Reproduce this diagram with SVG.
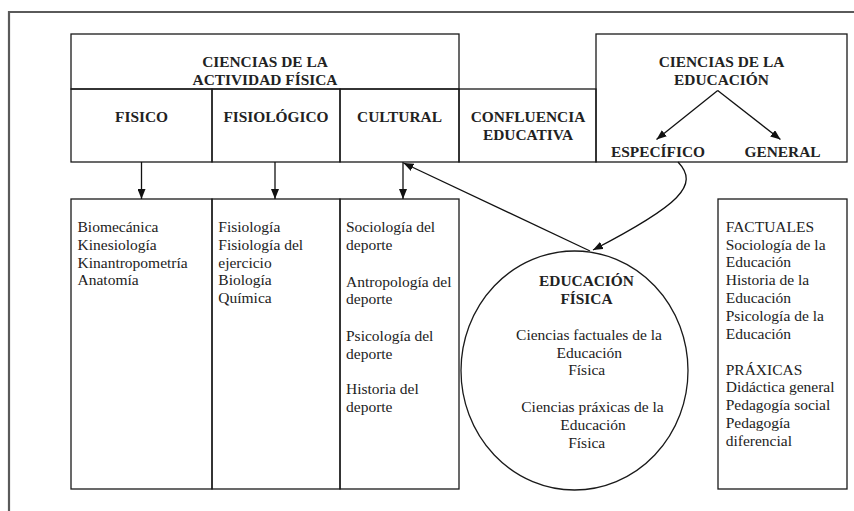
<svg xmlns="http://www.w3.org/2000/svg" width="854" height="511" viewBox="0 0 854 511">
<style>
.box{fill:none;stroke:#1a1a1a;stroke-width:1.3}
.frame{fill:none;stroke:#5a5a5a;stroke-width:2.2}
.conn{fill:none;stroke:#111;stroke-width:1.3}
.h{font-weight:bold;font-size:15.4px;fill:#222;text-anchor:middle}
.t{font-size:15.5px;fill:#222}
.c{text-anchor:middle}
</style>
<defs>
<marker id="ah" viewBox="0 0 10 8" refX="10" refY="4" markerWidth="10" markerHeight="8" markerUnits="userSpaceOnUse" orient="auto">
<path d="M0,0 L10,4 L0,8 Z" fill="#111"/>
</marker>
</defs>
<rect width="854" height="511" fill="#fff"/>
<path class="frame" d="M9,520 L9,12 L860,12"/>
<g font-family="Liberation Serif, Times New Roman, DejaVu Serif, serif">
<g id="actividad-fisica">
<rect class="box" x="71" y="34" width="388" height="55"/>
<text class="h" x="265" y="66.5">CIENCIAS DE LA</text>
<text class="h" x="265" y="84.5">ACTIVIDAD FÍSICA</text>
</g>
<g id="fisico">
<rect class="box" x="71" y="89" width="141" height="73"/>
<text class="h" x="141.5" y="121.7">FISICO</text>
</g>
<g id="fisiologico">
<rect class="box" x="212" y="89" width="128" height="73"/>
<text class="h" x="276" y="121.7">FISIOLÓGICO</text>
</g>
<g id="cultural">
<rect class="box" x="340" y="89" width="119" height="73"/>
<text class="h" x="399.5" y="121.7">CULTURAL</text>
</g>
<g id="confluencia">
<rect class="box" x="459" y="89" width="137" height="73"/>
<text class="h" x="528" y="122.3">CONFLUENCIA</text>
<text class="h" x="528" y="139.8">EDUCATIVA</text>
</g>
<g id="ciencias-educacion">
<rect class="box" x="596" y="34" width="251" height="128"/>
<text class="h" x="721.5" y="66.5">CIENCIAS DE LA</text>
<text class="h" x="721.5" y="84.5">EDUCACIÓN</text>
</g>
<g id="especifico">
<text class="h" x="658" y="157.3">ESPECÍFICO</text>
</g>
<g id="general">
<text class="h" x="782.5" y="157.3">GENERAL</text>
</g>

<g id="lista-fisico">
<rect class="box" x="71" y="199" width="141" height="290"/>
<text class="t" x="77.5" y="232.3">Biomecánica</text>
<text class="t" x="77.5" y="250">Kinesiología</text>
<text class="t" x="77.5" y="267.7">Kinantropometría</text>
<text class="t" x="77.5" y="285.4">Anatomía</text>
</g>
<g id="lista-fisiologico">
<rect class="box" x="212" y="199" width="128" height="290"/>
<text class="t" x="218.3" y="232.3">Fisiología</text>
<text class="t" x="218.3" y="250">Fisiología del</text>
<text class="t" x="218.3" y="267.7">ejercicio</text>
<text class="t" x="218.3" y="285.4">Biología</text>
<text class="t" x="218.3" y="303.1">Química</text>
</g>
<g id="lista-cultural">
<rect class="box" x="340" y="199" width="119" height="290"/>
<text class="t" x="346" y="232.3">Sociología del</text>
<text class="t" x="346" y="250.3">deporte</text>
<text class="t" x="346" y="286.5">Antropología del</text>
<text class="t" x="346" y="304.3">deporte</text>
<text class="t" x="346" y="340.8">Psicología del</text>
<text class="t" x="346" y="358.6">deporte</text>
<text class="t" x="346" y="394.3">Historia del</text>
<text class="t" x="346" y="412">deporte</text>
</g>
<g id="educacion-fisica">
<ellipse class="box" cx="574.5" cy="370.5" rx="113.5" ry="119.5"/>
<text class="h" x="586.5" y="286">EDUCACIÓN</text>
<text class="h" x="586.5" y="304">FÍSICA</text>
<text class="t c" x="589" y="340">Ciencias factuales de la</text>
<text class="t c" x="589.3" y="357.6">Educación</text>
<text class="t c" x="586.7" y="375.2">Física</text>
<text class="t c" x="592.5" y="412.3">Ciencias práxicas de la</text>
<text class="t c" x="593" y="430">Educación</text>
<text class="t c" x="586.7" y="447.6">Física</text>
</g>
<g id="lista-educacion">
<rect class="box" x="718" y="199" width="129" height="290"/>
<text class="t" x="725.7" y="231.7">FACTUALES</text>
<text class="t" x="725.7" y="249.5">Sociología de la</text>
<text class="t" x="725.7" y="267.3">Educación</text>
<text class="t" x="725.7" y="285.1">Historia de la</text>
<text class="t" x="725.7" y="302.9">Educación</text>
<text class="t" x="725.7" y="320.7">Psicología de la</text>
<text class="t" x="725.7" y="338.5">Educación</text>
<text class="t" x="725.7" y="374.5">PRÁXICAS</text>
<text class="t" x="725.7" y="392.3">Didáctica general</text>
<text class="t" x="725.7" y="410.1">Pedagogía social</text>
<text class="t" x="725.7" y="427.9">Pedagogía</text>
<text class="t" x="725.7" y="445.7">diferencial</text>
</g>
</g>
<g id="connectors">
<line class="conn" x1="141.5" y1="162" x2="141.5" y2="199" marker-end="url(#ah)"/>
<line class="conn" x1="275" y1="162" x2="275" y2="199" marker-end="url(#ah)"/>
<line class="conn" x1="403" y1="162" x2="403" y2="199" marker-end="url(#ah)"/>
<line class="conn" x1="717.7" y1="90.5" x2="656.5" y2="139.5" marker-end="url(#ah)"/>
<line class="conn" x1="717.7" y1="90.5" x2="780.5" y2="139.5" marker-end="url(#ah)"/>
<path class="conn" d="M678,162 C700,185 680,205 593,250" marker-end="url(#ah)"/>
<line class="conn" x1="590" y1="251" x2="403.5" y2="163" marker-end="url(#ah)"/>
</g>
</svg>
